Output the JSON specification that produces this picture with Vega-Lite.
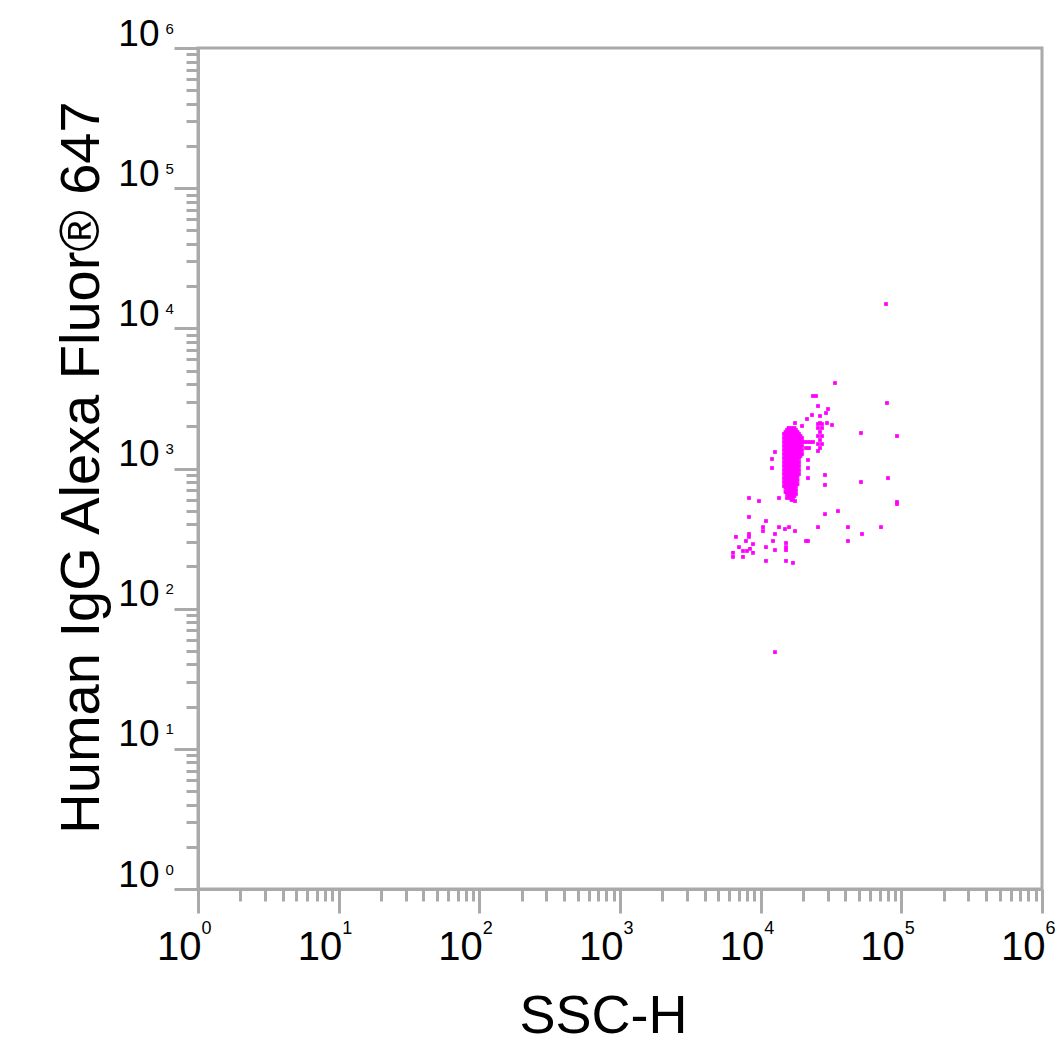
{
  "$schema": "https://vega.github.io/schema/vega-lite/v6.json",
  "width": 844,
  "height": 841,
  "autosize": "none",
  "padding": {"left": 198, "top": 48, "right": 21, "bottom": 165},
  "config": {
    "font": "Liberation Sans",
    "view": {"stroke": "#aaaaaa", "strokeWidth": 3},
    "axis": {"grid": false, "tickColor": "#aaaaaa", "tickWidth": 3, "domainColor": "#aaaaaa", "domainWidth": 3, "labelColor": "black", "labelFlush": false, "labelOverlap": false, "labelBound": false}
  },
  "data": {
    "values": [
      {"ssc": 77790, "igg": 14910}, {"ssc": 33750, "igg": 4072}, {"ssc": 23550, "igg": 3290}, {"ssc": 24740, "igg": 3290},
      {"ssc": 79070, "igg": 2933}, {"ssc": 25560, "igg": 2792}, {"ssc": 30110, "igg": 2657}, {"ssc": 29140, "igg": 2489},
      {"ssc": 23170, "igg": 2408}, {"ssc": 26410, "igg": 2369}, {"ssc": 21350, "igg": 2255}, {"ssc": 26410, "igg": 2111},
      {"ssc": 29620, "igg": 2111}, {"ssc": 32140, "igg": 2043},
      {"ssc": 25560, "igg": 2077}, {"ssc": 27290, "igg": 2077}, {"ssc": 25560, "igg": 1945}, {"ssc": 27290, "igg": 1945},
      {"ssc": 26410, "igg": 1822}, {"ssc": 25560, "igg": 1705}, {"ssc": 27290, "igg": 1705}, {"ssc": 26410, "igg": 1597},
      {"ssc": 25560, "igg": 1495}, {"ssc": 27290, "igg": 1495}, {"ssc": 26410, "igg": 1400}, {"ssc": 25560, "igg": 1333},
      {"ssc": 17540, "igg": 2111}, {"ssc": 19670, "igg": 2010},
      {"ssc": 20320, "igg": 1545}, {"ssc": 21350, "igg": 1545}, {"ssc": 22420, "igg": 1545}, {"ssc": 23550, "igg": 1545},
      {"ssc": 21000, "igg": 1400}, {"ssc": 22060, "igg": 1400},
      {"ssc": 51670, "igg": 1792}, {"ssc": 93140, "igg": 1705}, {"ssc": 80370, "igg": 855}, {"ssc": 51670, "igg": 801},
      {"ssc": 93140, "igg": 577}, {"ssc": 93140, "igg": 558}, {"ssc": 28660, "igg": 899}, {"ssc": 28660, "igg": 763},
      {"ssc": 21700, "igg": 1150}, {"ssc": 21700, "igg": 1008}, {"ssc": 21700, "igg": 855},
      {"ssc": 12640, "igg": 1311}, {"ssc": 12040, "igg": 1169}, {"ssc": 12040, "igg": 1008},
      {"ssc": 9730, "igg": 586}, {"ssc": 17540, "igg": 586}, {"ssc": 8260, "igg": 616}, {"ssc": 13500, "igg": 616},
      {"ssc": 8260, "igg": 451}, {"ssc": 28660, "igg": 473}, {"ssc": 35450, "igg": 497}, {"ssc": 10910, "igg": 422},
      {"ssc": 10390, "igg": 382}, {"ssc": 10390, "igg": 358}, {"ssc": 13500, "igg": 382}, {"ssc": 15900, "igg": 382},
      {"ssc": 14890, "igg": 370}, {"ssc": 17540, "igg": 358}, {"ssc": 25560, "igg": 382}, {"ssc": 41750, "igg": 382},
      {"ssc": 71680, "igg": 382}, {"ssc": 52520, "igg": 341}, {"ssc": 41750, "igg": 304},
      {"ssc": 6676, "igg": 325}, {"ssc": 8260, "igg": 341}, {"ssc": 8260, "igg": 325}, {"ssc": 12640, "igg": 341},
      {"ssc": 7863, "igg": 304}, {"ssc": 12240, "igg": 304}, {"ssc": 21000, "igg": 304}, {"ssc": 21700, "igg": 304},
      {"ssc": 8819, "igg": 289}, {"ssc": 7013, "igg": 275}, {"ssc": 10910, "igg": 275}, {"ssc": 15140, "igg": 294},
      {"ssc": 15140, "igg": 275}, {"ssc": 15140, "igg": 262}, {"ssc": 7486, "igg": 258}, {"ssc": 7993, "igg": 258},
      {"ssc": 8397, "igg": 267}, {"ssc": 8819, "igg": 250}, {"ssc": 6358, "igg": 250}, {"ssc": 6358, "igg": 234},
      {"ssc": 7486, "igg": 234}, {"ssc": 12640, "igg": 262}, {"ssc": 10910, "igg": 219}, {"ssc": 15140, "igg": 219},
      {"ssc": 16970, "igg": 212}, {"ssc": 12640, "igg": 49},
      {"ssc": 15770, "igg": 1945}, {"ssc": 16565, "igg": 1945}, {"ssc": 17395, "igg": 1945},
      {"ssc": 15385, "igg": 1883}, {"ssc": 16160, "igg": 1883}, {"ssc": 16970, "igg": 1883}, {"ssc": 17830, "igg": 1883},
      {"ssc": 15010, "igg": 1822}, {"ssc": 15770, "igg": 1822}, {"ssc": 16565, "igg": 1822}, {"ssc": 17395, "igg": 1822}, {"ssc": 18275, "igg": 1822},
      {"ssc": 14650, "igg": 1763}, {"ssc": 15385, "igg": 1763}, {"ssc": 16160, "igg": 1763}, {"ssc": 16970, "igg": 1763}, {"ssc": 17830, "igg": 1763}, {"ssc": 18725, "igg": 1763},
      {"ssc": 15010, "igg": 1705}, {"ssc": 15770, "igg": 1705}, {"ssc": 16565, "igg": 1705}, {"ssc": 17395, "igg": 1705}, {"ssc": 18275, "igg": 1705}, {"ssc": 19194, "igg": 1705},
      {"ssc": 14650, "igg": 1650}, {"ssc": 15385, "igg": 1650}, {"ssc": 16160, "igg": 1650}, {"ssc": 16970, "igg": 1650}, {"ssc": 17830, "igg": 1650}, {"ssc": 18725, "igg": 1650}, {"ssc": 19670, "igg": 1650},
      {"ssc": 15010, "igg": 1597}, {"ssc": 15770, "igg": 1597}, {"ssc": 16565, "igg": 1597}, {"ssc": 17395, "igg": 1597}, {"ssc": 18275, "igg": 1597}, {"ssc": 19194, "igg": 1597},
      {"ssc": 14650, "igg": 1545}, {"ssc": 15385, "igg": 1545}, {"ssc": 16160, "igg": 1545}, {"ssc": 16970, "igg": 1545}, {"ssc": 17830, "igg": 1545}, {"ssc": 18725, "igg": 1545}, {"ssc": 19670, "igg": 1545},
      {"ssc": 15010, "igg": 1495}, {"ssc": 15770, "igg": 1495}, {"ssc": 16565, "igg": 1495}, {"ssc": 17395, "igg": 1495}, {"ssc": 18275, "igg": 1495}, {"ssc": 19194, "igg": 1495},
      {"ssc": 14650, "igg": 1447}, {"ssc": 15385, "igg": 1447}, {"ssc": 16160, "igg": 1447}, {"ssc": 16970, "igg": 1447}, {"ssc": 17830, "igg": 1447}, {"ssc": 18725, "igg": 1447}, {"ssc": 19670, "igg": 1447},
      {"ssc": 15010, "igg": 1400}, {"ssc": 15770, "igg": 1400}, {"ssc": 16565, "igg": 1400}, {"ssc": 17395, "igg": 1400}, {"ssc": 18275, "igg": 1400}, {"ssc": 19194, "igg": 1400},
      {"ssc": 14650, "igg": 1355}, {"ssc": 15385, "igg": 1355}, {"ssc": 16160, "igg": 1355}, {"ssc": 16970, "igg": 1355}, {"ssc": 17830, "igg": 1355}, {"ssc": 18725, "igg": 1355}, {"ssc": 19670, "igg": 1355},
      {"ssc": 15010, "igg": 1311}, {"ssc": 15770, "igg": 1311}, {"ssc": 16565, "igg": 1311}, {"ssc": 17395, "igg": 1311}, {"ssc": 18275, "igg": 1311}, {"ssc": 19194, "igg": 1311},
      {"ssc": 14650, "igg": 1269}, {"ssc": 15385, "igg": 1269}, {"ssc": 16160, "igg": 1269}, {"ssc": 16970, "igg": 1269}, {"ssc": 17830, "igg": 1269}, {"ssc": 18725, "igg": 1269}, {"ssc": 19670, "igg": 1269},
      {"ssc": 15010, "igg": 1228}, {"ssc": 15770, "igg": 1228}, {"ssc": 16565, "igg": 1228}, {"ssc": 17395, "igg": 1228}, {"ssc": 18275, "igg": 1228}, {"ssc": 19194, "igg": 1228},
      {"ssc": 14650, "igg": 1188}, {"ssc": 15385, "igg": 1188}, {"ssc": 16160, "igg": 1188}, {"ssc": 16970, "igg": 1188}, {"ssc": 17830, "igg": 1188}, {"ssc": 18725, "igg": 1188},
      {"ssc": 15010, "igg": 1150}, {"ssc": 15770, "igg": 1150}, {"ssc": 16565, "igg": 1150}, {"ssc": 17395, "igg": 1150}, {"ssc": 18275, "igg": 1150},
      {"ssc": 14650, "igg": 1112}, {"ssc": 15385, "igg": 1112}, {"ssc": 16160, "igg": 1112}, {"ssc": 16970, "igg": 1112}, {"ssc": 17830, "igg": 1112}, {"ssc": 18725, "igg": 1112},
      {"ssc": 15010, "igg": 1076}, {"ssc": 15770, "igg": 1076}, {"ssc": 16565, "igg": 1076}, {"ssc": 17395, "igg": 1076}, {"ssc": 18275, "igg": 1076},
      {"ssc": 14650, "igg": 1042}, {"ssc": 15385, "igg": 1042}, {"ssc": 16160, "igg": 1042}, {"ssc": 16970, "igg": 1042}, {"ssc": 17830, "igg": 1042}, {"ssc": 18725, "igg": 1042},
      {"ssc": 15010, "igg": 1008}, {"ssc": 15770, "igg": 1008}, {"ssc": 16565, "igg": 1008}, {"ssc": 17395, "igg": 1008}, {"ssc": 18275, "igg": 1008},
      {"ssc": 14650, "igg": 975}, {"ssc": 15385, "igg": 975}, {"ssc": 16160, "igg": 975}, {"ssc": 16970, "igg": 975}, {"ssc": 17830, "igg": 975}, {"ssc": 18725, "igg": 975},
      {"ssc": 15010, "igg": 944}, {"ssc": 15770, "igg": 944}, {"ssc": 16565, "igg": 944}, {"ssc": 17395, "igg": 944}, {"ssc": 18275, "igg": 944},
      {"ssc": 14650, "igg": 914}, {"ssc": 15385, "igg": 914}, {"ssc": 16160, "igg": 914}, {"ssc": 16970, "igg": 914}, {"ssc": 17830, "igg": 914}, {"ssc": 18725, "igg": 914},
      {"ssc": 15010, "igg": 884}, {"ssc": 15770, "igg": 884}, {"ssc": 16565, "igg": 884}, {"ssc": 17395, "igg": 884}, {"ssc": 18275, "igg": 884},
      {"ssc": 14650, "igg": 855}, {"ssc": 15385, "igg": 855}, {"ssc": 16160, "igg": 855}, {"ssc": 16970, "igg": 855}, {"ssc": 17830, "igg": 855},
      {"ssc": 15010, "igg": 828}, {"ssc": 15770, "igg": 828}, {"ssc": 16565, "igg": 828}, {"ssc": 17395, "igg": 828}, {"ssc": 18275, "igg": 828},
      {"ssc": 14650, "igg": 801}, {"ssc": 15385, "igg": 801}, {"ssc": 16160, "igg": 801}, {"ssc": 16970, "igg": 801}, {"ssc": 17830, "igg": 801},
      {"ssc": 15010, "igg": 775}, {"ssc": 15770, "igg": 775}, {"ssc": 16565, "igg": 775}, {"ssc": 17395, "igg": 775}, {"ssc": 18275, "igg": 775},
      {"ssc": 14650, "igg": 750}, {"ssc": 15385, "igg": 750}, {"ssc": 16160, "igg": 750}, {"ssc": 16970, "igg": 750}, {"ssc": 17830, "igg": 750},
      {"ssc": 15010, "igg": 726}, {"ssc": 15770, "igg": 726}, {"ssc": 16565, "igg": 726}, {"ssc": 17395, "igg": 726},
      {"ssc": 15385, "igg": 702}, {"ssc": 16160, "igg": 702}, {"ssc": 16970, "igg": 702}, {"ssc": 17830, "igg": 702},
      {"ssc": 15010, "igg": 680}, {"ssc": 15770, "igg": 680}, {"ssc": 16565, "igg": 680}, {"ssc": 17395, "igg": 680},
      {"ssc": 15385, "igg": 658}, {"ssc": 16160, "igg": 658}, {"ssc": 16970, "igg": 658}, {"ssc": 17830, "igg": 658},
      {"ssc": 15770, "igg": 636}, {"ssc": 16565, "igg": 636}, {"ssc": 17395, "igg": 636},
      {"ssc": 15385, "igg": 616}, {"ssc": 16160, "igg": 616}, {"ssc": 16970, "igg": 616},
      {"ssc": 16565, "igg": 596}
    ]
  },
  "layer": [
    {
      "mark": {"type": "square", "size": 0, "opacity": 0},
      "encoding": {
        "x": {
          "field": "ssc", "type": "quantitative",
          "scale": {"type": "log", "domain": [1, 1000000], "nice": false},
          "axis": {
            "orient": "bottom", "title": null, "domain": false, "labels": false, "tickSize": 12,
            "values": [2, 3, 4, 5, 6, 7, 8, 9, 20, 30, 40, 50, 60, 70, 80, 90, 200, 300, 400, 500, 600, 700, 800, 900, 2000, 3000, 4000, 5000, 6000, 7000, 8000, 9000, 20000, 30000, 40000, 50000, 60000, 70000, 80000, 90000, 200000, 300000, 400000, 500000, 600000, 700000, 800000, 900000]
          }
        },
        "y": {
          "field": "igg", "type": "quantitative",
          "scale": {"type": "log", "domain": [1, 1000000], "nice": false},
          "axis": {
            "orient": "left", "title": null, "domain": false, "labels": false, "tickSize": 12,
            "values": [2, 3, 4, 5, 6, 7, 8, 9, 20, 30, 40, 50, 60, 70, 80, 90, 200, 300, 400, 500, 600, 700, 800, 900, 2000, 3000, 4000, 5000, 6000, 7000, 8000, 9000, 20000, 30000, 40000, 50000, 60000, 70000, 80000, 90000, 200000, 300000, 400000, 500000, 600000, 700000, 800000, 900000]
          }
        }
      }
    },
    {
      "mark": {"type": "square", "size": 0, "opacity": 0},
      "encoding": {
        "x": {
          "field": "ssc", "type": "quantitative",
          "axis": {
            "orient": "bottom", "title": null, "domain": false, "ticks": false, "tickSize": 0,
            "values": [1, 10, 100, 1000, 10000, 100000, 1000000],
            "labelExpr": "format(round(log(datum.value)/LN10), 'd')",
            "labelFontSize": 18, "labelAlign": "left", "labelBaseline": "top", "labelOffset": 3, "labelPadding": 30
          }
        },
        "y": {
          "field": "igg", "type": "quantitative",
          "axis": {
            "orient": "left", "title": null, "domain": false, "ticks": false, "tickSize": 0,
            "values": [1, 10, 100, 1000, 10000, 100000, 1000000],
            "labelExpr": "format(round(log(datum.value)/LN10), 'd')",
            "labelFontSize": 15, "labelAlign": "left", "labelBaseline": "top", "labelOffset": -27, "labelPadding": 33
          }
        }
      }
    },
    {
      "mark": {"type": "square", "size": 14, "color": "#ff00ff", "opacity": 1},
      "encoding": {
        "x": {
          "field": "ssc", "type": "quantitative",
          "axis": {
            "orient": "bottom",
            "title": "SSC-H", "titleFontSize": 54, "titleFontWeight": "normal", "titleColor": "black",
            "titleX": 405, "titleY": 100, "titleAlign": "center", "titleBaseline": "top",
            "values": [1, 10, 100, 1000, 10000, 100000, 1000000],
            "labelExpr": "'10'",
            "labelFontSize": 40, "labelAlign": "right", "labelBaseline": "top", "labelOffset": 3, "labelPadding": 14,
            "tickSize": 24
          }
        },
        "y": {
          "field": "igg", "type": "quantitative",
          "axis": {
            "orient": "left",
            "title": "Human IgG Alexa Fluor® 647", "titleFontSize": 56, "titleFontWeight": "normal", "titleColor": "black",
            "titleX": -100, "titleY": 419, "titleAngle": 270, "titleAlign": "center", "titleBaseline": "alphabetic",
            "values": [1, 10, 100, 1000, 10000, 100000, 1000000],
            "labelExpr": "'10'",
            "labelFontSize": 37, "labelAlign": "right", "labelBaseline": "alphabetic", "labelOffset": -3, "labelPadding": 15,
            "tickSize": 24
          }
        }
      }
    }
  ],
  "resolve": {"axis": {"x": "independent", "y": "independent"}}
}
